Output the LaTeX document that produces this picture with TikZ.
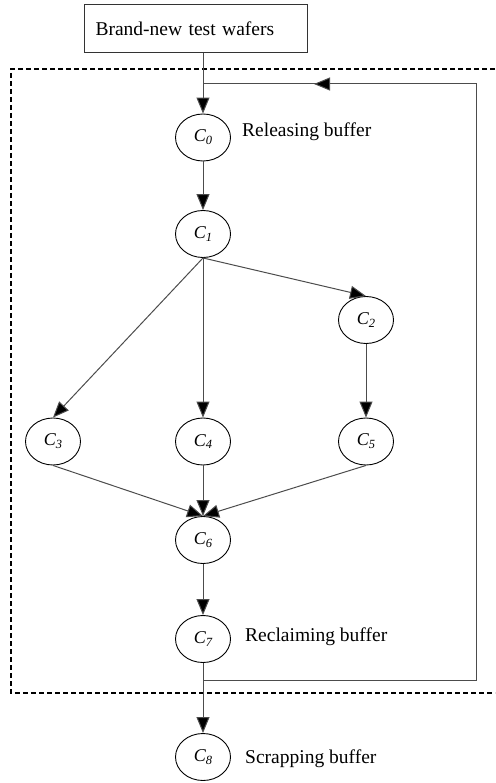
\documentclass[tikz,border=0pt]{standalone}
\usepackage{fontspec}
\setmainfont{Liberation Serif}
\usetikzlibrary{shapes.geometric,arrows.meta}
\tikzset{
  state/.style={ellipse,draw=black,line width=0.9pt,minimum width=55pt,minimum height=47pt,inner sep=0pt,font=\fontsize{18}{20}\selectfont\itshape},
  buf/.style={anchor=base west,inner sep=0pt,font=\fontsize{19.5}{21}\selectfont},
  tip/.tip={Triangle[length=16pt,width=13pt,fill=black]},
  flow/.style={draw=black!70,line width=1pt,-tip},
  plain/.style={draw=black!70,line width=1pt},
  bound/.style={draw=black,line width=1.4pt,dash pattern=on 5pt off 3pt},
}
\newcommand{\cs}[1]{C\raisebox{-0.35ex}{\fontsize{12.5}{13}\selectfont #1}}
\begin{document}
\begin{tikzpicture}[x=1pt,y=-1pt]
\useasboundingbox (0,0) rectangle (495,783);
% dashed boundary
\draw[bound] (495,69) -- (11,69) -- (11,693) -- (495,693);
% source box
\node[draw=black!80,line width=1pt,minimum width=223pt,minimum height=48pt,inner sep=0pt,text width=210pt,align=left,font=\fontsize{19.5}{21}\selectfont] (src) at (195.5,29) {\hspace*{5pt}Brand-new test wafers};
% states
\node[state] (c0) at (203,137.5) {\cs{0}};
\node[state] (c1) at (203,234) {\cs{1}};
\node[state] (c2) at (366,320) {\cs{2}};
\node[state] (c3) at (53,441.5) {\cs{3}};
\node[state] (c4) at (203,441.5) {\cs{4}};
\node[state] (c5) at (366,441.5) {\cs{5}};
\node[state] (c6) at (203,540) {\cs{6}};
\node[state] (c7) at (203,639) {\cs{7}};
\node[state] (c8) at (203,757) {\cs{8}};
% buffer labels
\node[buf] (lrel) at (242,137) {Releasing buffer};
\node[buf] (lrec) at (245,641) {Reclaiming buffer};
\node[buf] (lscr) at (245,763) {Scrapping buffer};
% coordinates for feedback loop
\coordinate (fb0) at (203,680);
\coordinate (fb1) at (476,680);
\coordinate (fb2) at (476,84);
\coordinate (fbm) at (314,84);
\coordinate (fb3) at (203,84);
% flows
\draw[flow] (src.south -| c0) -- (c0.north);
\draw[flow] (c0.south) -- (c1.north);
\draw[flow] (c1.south) -- (c2.north);
\draw[flow] (c1.south) -- (c3.north);
\draw[flow] (c1.south) -- (c4.north);
\draw[flow] (c2.south) -- (c5.north);
\draw[flow] (c3.south) -- (c6.north);
\draw[flow] (c4.south) -- (c6.north);
\draw[flow] (c5.south) -- (c6.north);
\draw[flow] (c6.south) -- (c7.north);
\draw[flow] (c7.south) -- (c8.north);
% feedback
\draw[plain] (fb0) -- (fb1) -- (fb2) -- (fbm);
\draw[flow] (fb2) -- (fbm);
\draw[plain] (fbm) -- (fb3);
\end{tikzpicture}
\end{document}
